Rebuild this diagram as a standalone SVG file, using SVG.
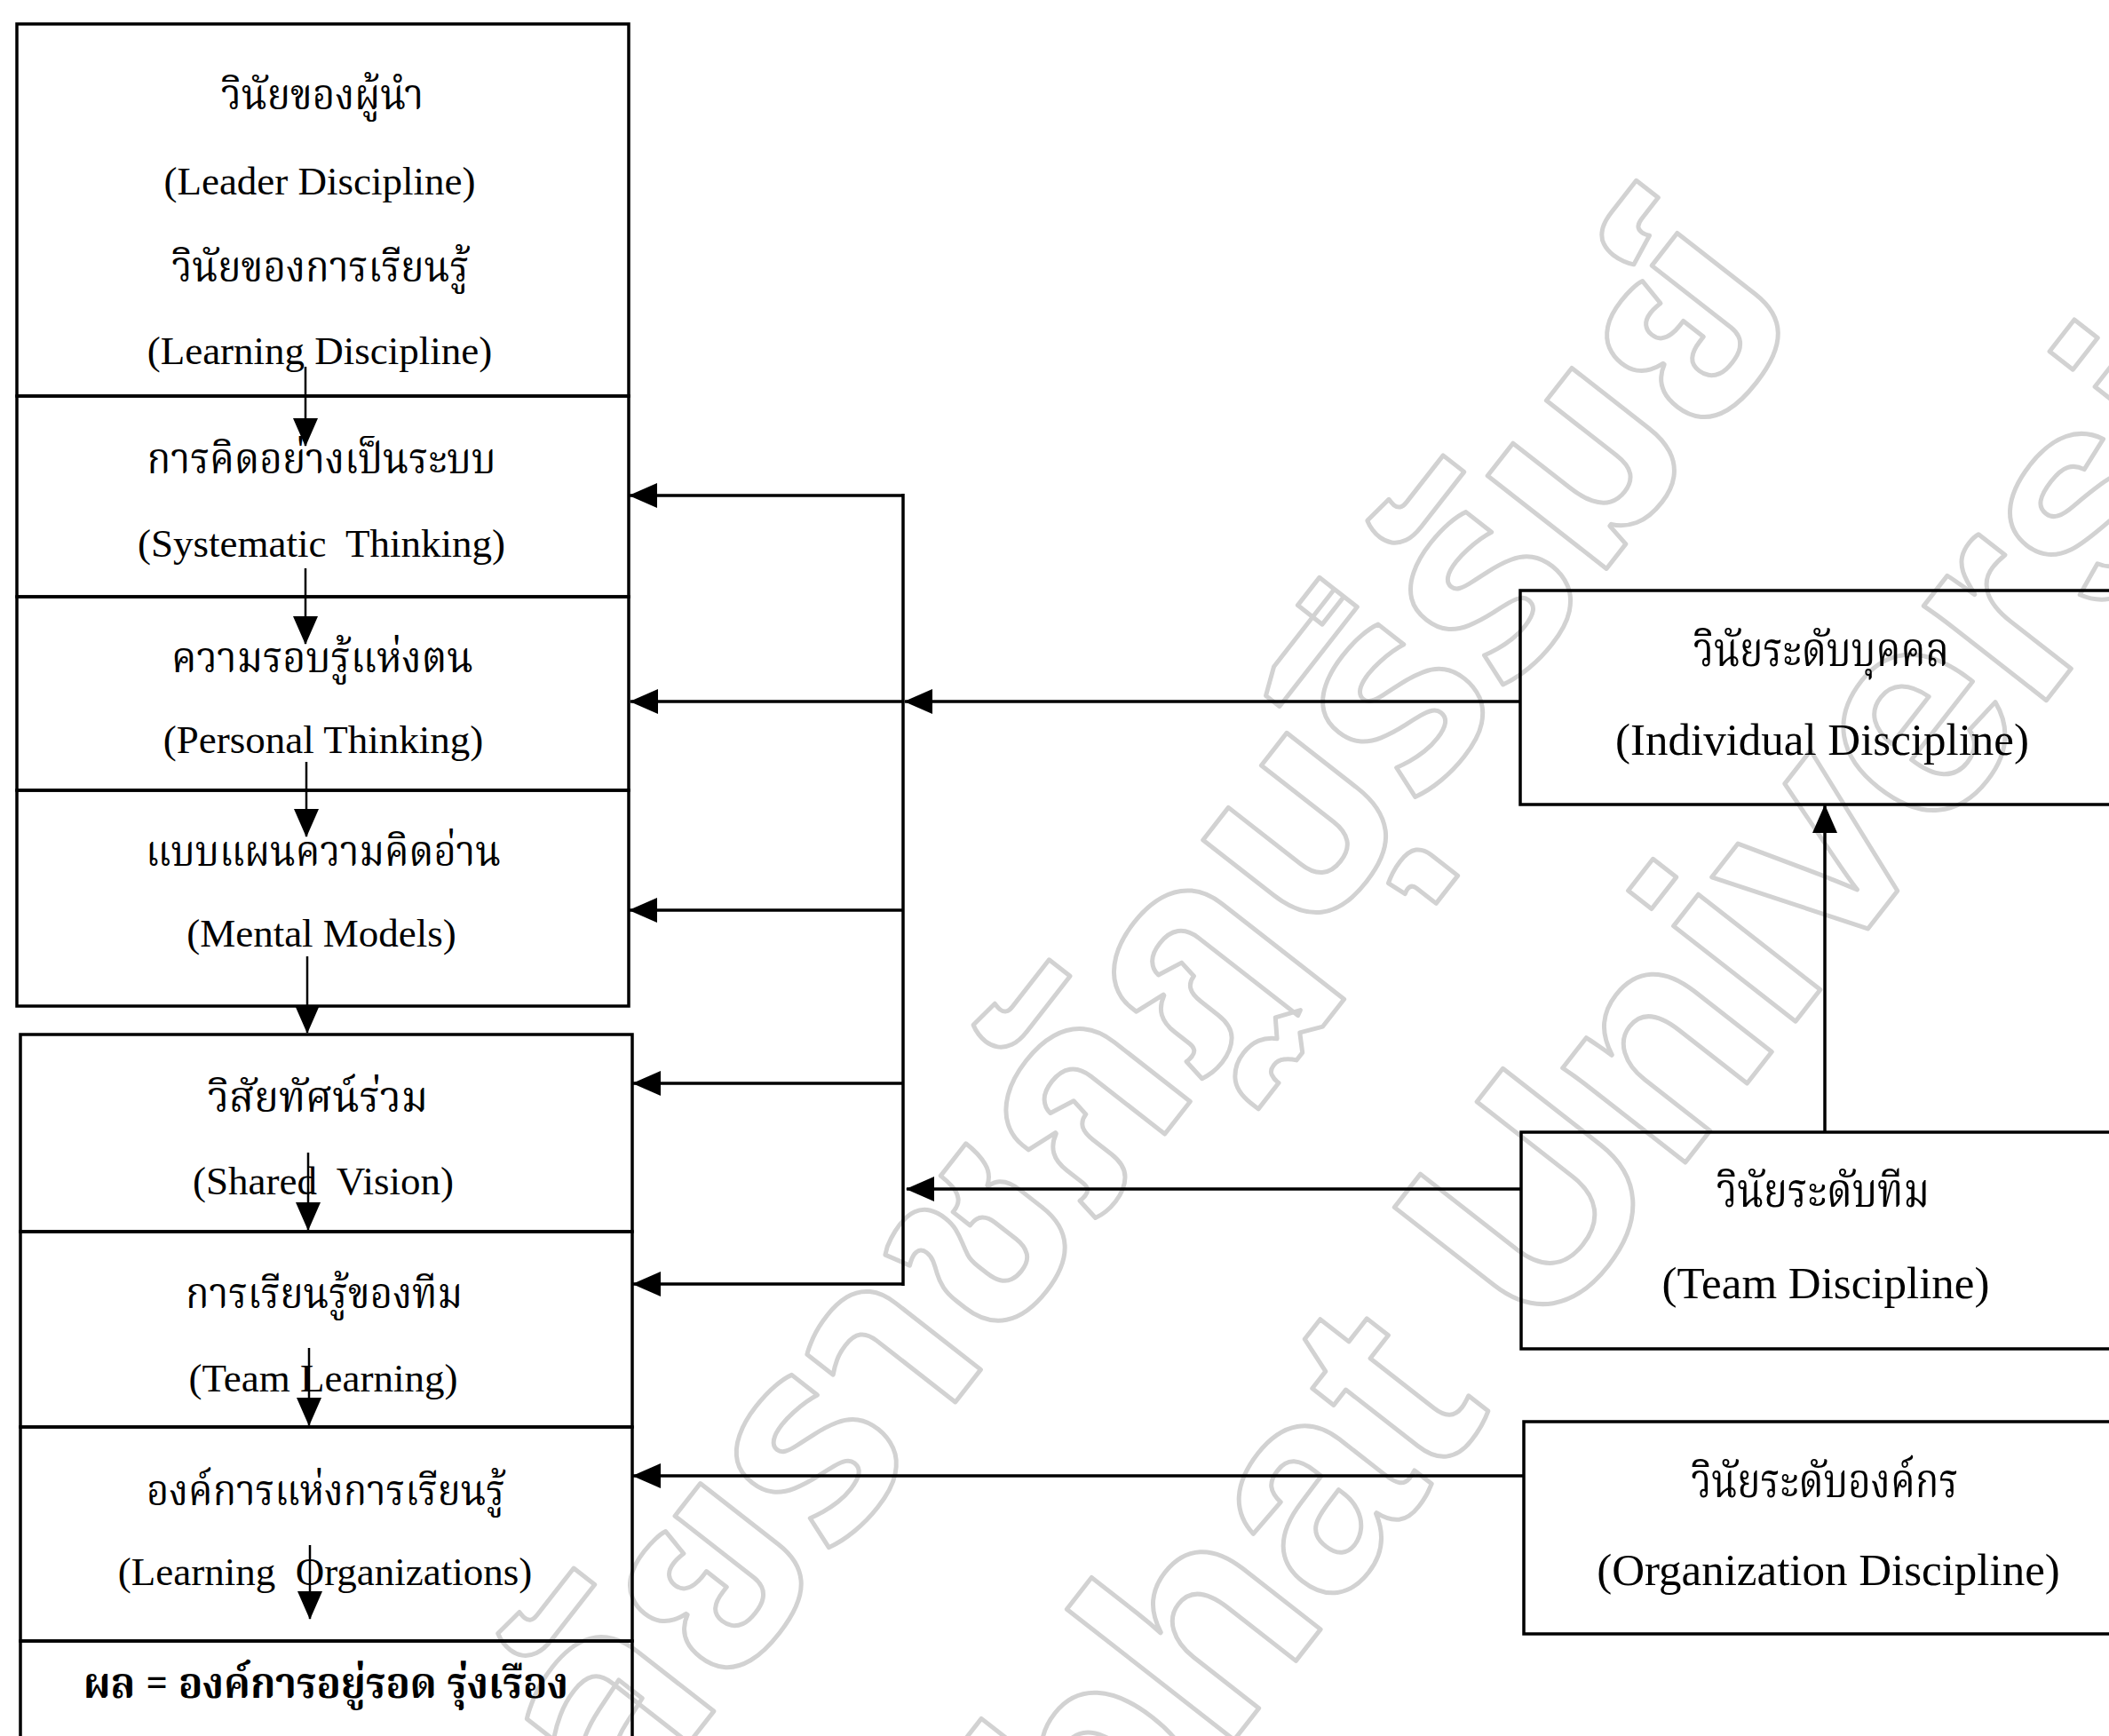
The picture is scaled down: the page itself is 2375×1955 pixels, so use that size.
<svg xmlns="http://www.w3.org/2000/svg" width="2375" height="1955" viewBox="0 0 2375 1955">
<defs>
  <marker id="arrow" markerUnits="userSpaceOnUse" markerWidth="32" markerHeight="28" viewBox="0 0 32 28" refX="31" refY="14" orient="auto">
    <path d="M0,0 L32,14 L0,28 Z" fill="#000"/>
  </marker>
</defs>
<style>
  .box { fill: none; stroke: #000; stroke-width: 3.5; }
  .th { font-family: "Noto Serif Thai", "Noto Sans Thai Looped", "Noto Sans Thai", sans-serif; fill: #000; text-anchor: middle; }
  .en { font-family: "Liberation Serif", "Times New Roman", serif; fill: #000; text-anchor: middle; }
  .l { font-size: 45px; }
  .r { font-size: 51px; }
  .tl { font-size: 48px; }
  .tr { font-size: 54px; }
  .conn { stroke: #000; stroke-width: 3.5; fill: none; }
  .flow { stroke: #000; stroke-width: 2.5; fill: none; }
  .wm { fill: none; stroke: #d2d2d2; stroke-width: 5; stroke-linejoin: round; }
</style>
<rect width="2375" height="1955" fill="#fff"/>

<!-- faint diagonal watermark behind the chart -->
<g id="watermark" class="wm">
  <text transform="translate(2036,350) rotate(-52)" text-anchor="end" font-family="Noto Sans Thai, sans-serif" font-weight="bold" font-size="310">มหาวิทยาลัยราชภัฏบุรีรัมย์</text>
  <text transform="translate(1737,1515) rotate(-52)" font-family="Liberation Sans, Arial, sans-serif" font-weight="bold" font-size="330">University</text>
  <text transform="translate(1737,1515) rotate(-52)" x="-92" text-anchor="end" font-family="Liberation Sans, Arial, sans-serif" font-weight="bold" font-size="330">Buriram Rajabhat</text>
</g>

<!-- left column: the five disciplines -->
<g id="leader">
  <rect class="box" x="19" y="27" width="689" height="419"/>
  <text class="th tl" x="363" y="123" textLength="228" lengthAdjust="spacingAndGlyphs">วินัยของผู้นำ</text>
  <text class="en l" x="360" y="219">(Leader Discipline)</text>
  <text class="th tl" x="361" y="317" textLength="335" lengthAdjust="spacingAndGlyphs">วินัยของการเรียนรู้</text>
  <text class="en l" x="360" y="410">(Learning Discipline)</text>
</g>
<g id="systematic">
  <rect class="box" x="19" y="446" width="689" height="226"/>
  <text class="th tl" x="362" y="533" textLength="393" lengthAdjust="spacingAndGlyphs">การคิดอย่างเป็นระบบ</text>
  <text class="en l" x="362" y="627" xml:space="preserve">(Systematic  Thinking)</text>
</g>
<g id="personal">
  <rect class="box" x="19" y="672" width="689" height="218"/>
  <text class="th tl" x="363" y="757" textLength="340" lengthAdjust="spacingAndGlyphs">ความรอบรู้แห่งตน</text>
  <text class="en l" x="364" y="848">(Personal Thinking)</text>
</g>
<g id="mental">
  <rect class="box" x="19" y="890" width="689" height="243"/>
  <text class="th tl" x="364" y="975" textLength="400" lengthAdjust="spacingAndGlyphs">แบบแผนความคิดอ่าน</text>
  <text class="en l" x="362" y="1066">(Mental Models)</text>
</g>
<g id="shared-vision">
  <rect class="box" x="23" y="1165" width="689" height="222"/>
  <text class="th tl" x="358" y="1252" textLength="248" lengthAdjust="spacingAndGlyphs">วิสัยทัศน์ร่วม</text>
  <text class="en l" x="364" y="1345" xml:space="preserve">(Shared  Vision)</text>
</g>
<g id="team-learning">
  <rect class="box" x="23" y="1387" width="689" height="220"/>
  <text class="th tl" x="365" y="1473" textLength="312" lengthAdjust="spacingAndGlyphs">การเรียนรู้ของทีม</text>
  <text class="en l" x="364" y="1567">(Team Learning)</text>
</g>
<g id="learning-organization">
  <rect class="box" x="23" y="1607" width="689" height="241"/>
  <text class="th tl" x="367" y="1695" textLength="404" lengthAdjust="spacingAndGlyphs">องค์การแห่งการเรียนรู้</text>
  <text class="en l" x="366" y="1785" xml:space="preserve">(Learning  Organizations)</text>
</g>
<g id="result">
  <path class="box" d="M23 1965V1848H712V1965"/>
  <text class="th tl" x="367" y="1912" font-weight="bold" textLength="546" lengthAdjust="spacingAndGlyphs">ผล = องค์การอยู่รอด รุ่งเรือง</text>
</g>

<!-- right column: discipline levels -->
<g id="individual">
  <rect class="box" x="1712" y="665" width="684" height="241"/>
  <text class="th tr" x="2051" y="750" textLength="288" lengthAdjust="spacingAndGlyphs">วินัยระดับบุคคล</text>
  <text class="en r" x="2052" y="850">(Individual Discipline)</text>
</g>
<g id="team">
  <rect class="box" x="1713" y="1275" width="684" height="244"/>
  <text class="th tr" x="2053" y="1359" textLength="240" lengthAdjust="spacingAndGlyphs">วินัยระดับทีม</text>
  <text class="en r" x="2056" y="1462">(Team Discipline)</text>
</g>
<g id="organization">
  <rect class="box" x="1716" y="1601" width="684" height="239"/>
  <text class="th tr" x="2055" y="1686" textLength="301" lengthAdjust="spacingAndGlyphs">วินัยระดับองค์กร</text>
  <text class="en r" x="2059" y="1785">(Organization Discipline)</text>
</g>

<!-- connectors -->
<g id="connectors">
  <!-- flow down the left column -->
  <line class="flow" x1="344" y1="413" x2="344" y2="502" marker-end="url(#arrow)"/>
  <line class="flow" x1="344" y1="640" x2="344" y2="725" marker-end="url(#arrow)"/>
  <line class="flow" x1="345" y1="858" x2="345" y2="942" marker-end="url(#arrow)"/>
  <line class="flow" x1="346" y1="1077" x2="346" y2="1163" marker-end="url(#arrow)"/>
  <line class="flow" x1="347" y1="1298" x2="347" y2="1385" marker-end="url(#arrow)"/>
  <line class="flow" x1="348" y1="1518" x2="348" y2="1605" marker-end="url(#arrow)"/>
  <line class="flow" x1="349" y1="1740" x2="349" y2="1823" marker-end="url(#arrow)"/>
  <!-- distribution bus -->
  <line class="conn" x1="1017" y1="556" x2="1017" y2="1448"/>
  <line class="conn" x1="1017" y1="558" x2="709" y2="558" marker-end="url(#arrow)"/>
  <line class="conn" x1="1712" y1="790" x2="1019" y2="790" marker-end="url(#arrow)"/>
  <line class="conn" x1="1017" y1="790" x2="710" y2="790" marker-end="url(#arrow)"/>
  <line class="conn" x1="1017" y1="1025" x2="709" y2="1025" marker-end="url(#arrow)"/>
  <line class="conn" x1="1017" y1="1220" x2="713" y2="1220" marker-end="url(#arrow)"/>
  <line class="conn" x1="1017" y1="1446" x2="713" y2="1446" marker-end="url(#arrow)"/>
  <line class="conn" x1="1713" y1="1339" x2="1021" y2="1339" marker-end="url(#arrow)"/>
  <line class="conn" x1="1716" y1="1662" x2="713" y2="1662" marker-end="url(#arrow)"/>
  <line class="conn" x1="2055" y1="1275" x2="2055" y2="907" marker-end="url(#arrow)"/>
</g>
</svg>
